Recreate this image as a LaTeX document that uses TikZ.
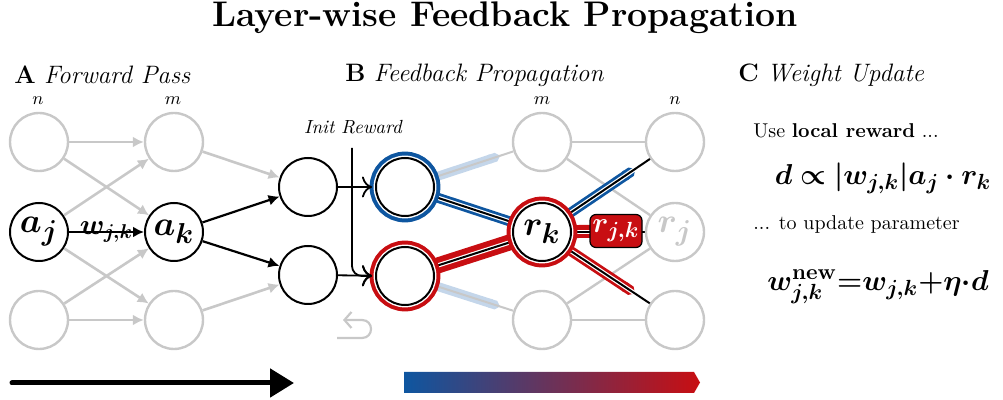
\documentclass[tikz,border=0pt]{standalone}
\usepackage{amsmath,amssymb,bm}
\usetikzlibrary{arrows.meta,backgrounds}

\definecolor{fbblue}{RGB}{14,86,160}
\definecolor{fbred}{RGB}{200,14,18}
\definecolor{lgray}{RGB}{200,200,200}
\definecolor{lblue}{RGB}{196,214,234}

\tikzset{
  neuron/.style={circle, draw, line width=1pt, fill=white, minimum size=29pt,
    inner sep=0pt, font=\fontsize{19}{21}\selectfont},
  faded/.style={neuron, draw=lgray, line width=1.2pt, text=lgray},
  ring/.style={neuron, preaction={draw=#1, line width=6.4pt},
    preaction={draw=white, line width=2.4pt}},
  fwd/.style={-{Latex[length=5.5pt,width=5.5pt]}, line width=1.1pt},
  fwdgray/.style={fwd, lgray, line width=1.3pt},
  init/.style={-{To[scale=1.4]}, line width=0.9pt, shorten >=1.5pt},
  core/.style={draw=white, line width=2.2pt, postaction={draw=black, line width=1pt}},
  head/.style={anchor=west, inner sep=0pt, font=\fontsize{12.6}{14}\selectfont},
  layer/.style={font=\fontsize{9}{10}\selectfont},
}

\begin{document}
\begin{tikzpicture}[x=0.5pt, y=-0.5pt]
\useasboundingbox (0,0) rectangle (1003,400);

% headings
\node (title) at (505,18) {\fontsize{17.8}{20}\selectfont\bfseries Layer-wise Feedback Propagation};
\node[head] (headA) at (14,75) {\textbf{A} \textit{Forward Pass}};
\node[head] (headB) at (345,75) {\textbf{B} \textit{Feedback Propagation}};
\node[head] (headC) at (738,75) {\textbf{C} \textit{Weight Update}};

% A: forward pass
\node[layer] (lbln) at (38,101) {$n$};
\node[layer] (lblm) at (173,101) {$m$};
\node[faded] (n1) at (39,142) {};
\node[neuron] (aj) at (39,232) {$\bm{a_j}$};
\node[faded] (n3) at (39,320) {};
\node[faded] (m1) at (174,142) {};
\node[neuron] (ak) at (174,232) {$\bm{a_k}$};
\node[faded] (m3) at (174,320) {};
\node[neuron] (o1) at (308,187) {};
\node[neuron] (o2) at (308,275) {};

\draw[fwdgray] (n1) -- (m1);
\draw[fwdgray] (n1) -- (ak);
\draw[fwdgray] (aj) -- (m1);
\draw[fwdgray] (aj) -- (m3);
\draw[fwdgray] (n3) -- (ak);
\draw[fwdgray] (n3) -- (m3);
\draw[fwdgray] (m1) -- (o1);
\draw[fwdgray] (m3) -- (o2);
\draw[fwd] (aj) -- node[font=\fontsize{14}{16}\selectfont] (wjk) {$\bm{w_{j,k}}$} (ak);
\draw[fwd] (ak) -- (o1);
\draw[fwd] (ak) -- (o2);

% B: feedback propagation
\node[font=\fontsize{9.5}{11}\selectfont\itshape] (initlbl) at (353,127) {Init Reward};
\node[layer] (lblm2) at (542,101) {$m$};
\node[layer] (lbln2) at (675,101) {$n$};
\node[ring=fbblue] (fb1) at (405,187) {};
\node[ring=fbred] (fb2) at (405,276) {};
\node[ring=fbred] (rk) at (542,232) {$\bm{r_k}$};
\node[faded] (p1) at (542,142) {};
\node[faded] (p3) at (542,320) {};
\node[faded] (q1) at (675,142) {};
\node[faded] (rj) at (675,232) {$\bm{r_j}$};
\node[faded] (q3) at (675,320) {};
\node[draw=black, fill=fbred, rounded corners=3pt, line width=0.6pt, text=white,
  minimum width=26pt, minimum height=16.5pt, inner sep=0pt,
  font=\fontsize{15}{16}\selectfont] (rjk) at (616,231) {$\bm{r_{j,k}}$};

\begin{scope}[on background layer]
\draw[lgray, line width=1.2pt] (p1) -- (q1);
\draw[lgray, line width=1.2pt] (p1) -- (rj);
\draw[lgray, line width=1.2pt] (p3) -- (rj);
\draw[lgray, line width=1.2pt] (p3) -- (q3);
\draw[lblue, line width=4.5pt, -{Triangle Cap}, shorten >=22pt] (fb1.center) -- (p1.center);
\draw[lblue, line width=4.5pt, -{Triangle Cap}, shorten >=22pt] (fb2.center) -- (p3.center);
\draw[lgray, line width=1pt] (fb1) -- (p1);
\draw[lgray, line width=1pt] (fb2) -- (p3);
\draw[fbblue, line width=5pt] (fb1.center) -- (rk.center);
\draw[fbred, line width=8pt] (fb2.center) -- (rk.center);
\draw[fbblue, line width=5pt, -{Triangle Cap}, shorten >=24pt] (rk.center) -- (q1.center);
\draw[fbred, line width=5pt, -{Triangle Cap}, shorten >=24pt] (rk.center) -- (q3.center);
\draw[fbred, line width=6.5pt] (rk.center) -- (rjk.center);
\draw[core] (fb1.center) -- (rk.center);
\draw[core] (fb2.center) -- (rk.center);
\draw[core] (rk.center) -- (q1.center);
\draw[core] (rk.center) -- (q3.center);
\draw[core] (rk.center) -- (rj.center);
\end{scope}

\coordinate (inittop) at (352,148);
\draw[init] (o1) -- (fb1);
\draw[init] (o2) -- (fb2);
\draw[init, rounded corners=5pt] (inittop) |- (fb2);
\draw[lgray, line width=1.1pt, -{Straight Barb[length=3.5pt,width=8pt]}] (337,338) -- (362,338)
  .. controls (374,338) and (374,320) .. (362,320) -- (343,320);

% C: weight update
\node[anchor=west, inner sep=0pt, font=\fontsize{10}{12}\selectfont] (uselbl) at (753,131) {Use \textbf{local reward} ...};
\node[font=\fontsize{15.5}{18}\selectfont] (eqd) at (883,178) {$\bm{d \propto |w_{j,k}| a_j \cdot r_k}$};
\node[anchor=west, inner sep=0pt, font=\fontsize{10}{12}\selectfont] (updlbl) at (753,225) {... to update parameter};
\node[font=\fontsize{15.8}{18}\selectfont] (equpd) at (878,287) {$\bm{w^{\mathbf{new}}_{j,k}{=}w_{j,k}{+}\eta{\cdot}d}$};

% bottom arrows
\coordinate (fwdL) at (12,383);
\coordinate (fwdR) at (294,383);
\draw[line width=2.5pt, line cap=round, -{Triangle[length=12pt,width=14pt]}] (fwdL) -- (fwdR);
\shade[left color=fbblue, right color=fbred] (404,372) -- (694,372) -- (700,382.5)
  -- (694,393) -- (404,393) -- cycle;
\end{tikzpicture}
\end{document}
